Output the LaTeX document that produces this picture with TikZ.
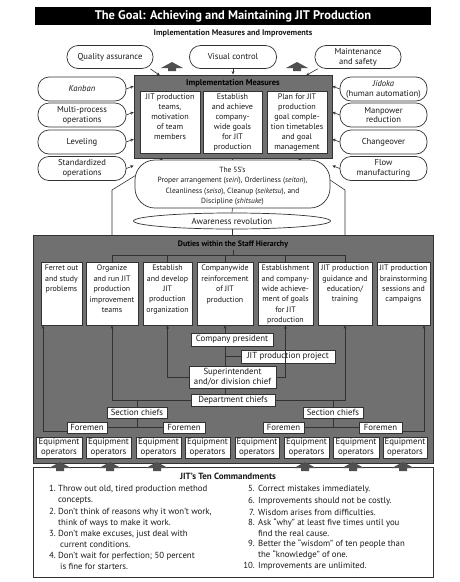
\documentclass[tikz,border=0pt]{standalone}
\usepackage{fontspec}
\setmainfont{PT Sans}
\usetikzlibrary{arrows.meta,shapes.geometric}
\definecolor{boxgray}{RGB}{112,112,112}
\definecolor{edgegray}{RGB}{50,50,50}
\definecolor{ink}{RGB}{25,25,25}
\definecolor{wedgegray}{RGB}{80,80,80}
\tikzset{
  heavyup/.pic={\fill[wedgegray] (-11,2) -- (0,-4) -- (11,2) -- (4,2) -- (4,5) -- (-4,5) -- (-4,2) -- cycle;}
}
\begin{document}
\begin{tikzpicture}[x=1pt,y=-1pt,
  every node/.style={text=ink},
  oval/.style={draw=edgegray, fill=white, line width=0.7pt, rounded corners=11pt, align=center, inner sep=0pt, font=\fontsize{8.6}{9.8}\selectfont},
  graybox/.style={draw=edgegray, fill=boxgray, line width=1pt, inner sep=0pt},
  wbox/.style={draw=edgegray, fill=white, line width=0.6pt, inner sep=0pt},
  btext/.style={align=center, inner sep=0pt, font=\fontsize{8.1}{10}\selectfont},
  dtext/.style={align=center, inner sep=0pt, font=\fontsize{7.9}{10.4}\selectfont},
  lbl/.style={draw=edgegray, fill=white, line width=0.5pt, align=center, inner sep=0pt, font=\fontsize{8.8}{10.4}\selectfont},
  conn/.style={draw=edgegray, line width=0.6pt},
  arr/.style={conn, -{Stealth[length=3.5pt,width=2.8pt]}},
  cmd/.style={inner sep=0pt, font=\fontsize{8.8}{10}\selectfont}
]
\useasboundingbox (0,0) rectangle (460,582);
\fill[white] (0,0) rectangle (460,582);

% title
\node[fill=black, minimum width=396pt, minimum height=18pt, inner sep=0pt, text=white, font=\bfseries\fontsize{12.5}{14}\selectfont] (title) at (233,16) {The Goal: Achieving and Maintaining JIT Production};
\node[font=\bfseries\fontsize{8.2}{10}\selectfont, inner sep=0pt] (sub) at (233,33) {Implementation Measures and Improvements};

% top ovals
\node[oval, minimum width=86pt, minimum height=23pt] (qa) at (110,57) {Quality assurance};
\node[oval, minimum width=87pt, minimum height=23pt] (vc) at (233,57) {Visual control};
\node[oval, minimum width=86pt, minimum height=23pt] (ms) at (358,57) {Maintenance\\and safety};
\pic at (172,66) {heavyup};
\pic at (297,66) {heavyup};

% side ovals
\node[oval, minimum width=88pt, minimum height=24pt] (kan) at (82,89) {\textit{Kanban}};
\node[oval, minimum width=88pt, minimum height=24pt] (multi) at (82,115) {Multi-process\\operations};
\node[oval, minimum width=88pt, minimum height=24pt] (lev) at (82,142) {Leveling};
\node[oval, minimum width=88pt, minimum height=24pt] (std) at (82,168.5) {Standardized\\operations};
\node[oval, minimum width=87pt, minimum height=24pt] (jid) at (383.5,89) {\textit{Jidoka}\\(human automation)};
\node[oval, minimum width=87pt, minimum height=24pt] (man) at (383.5,115) {Manpower\\reduction};
\node[oval, minimum width=87pt, minimum height=24pt] (chg) at (383.5,142) {Changeover};
\node[oval, minimum width=87pt, minimum height=24pt] (flow) at (383.5,168.5) {Flow\\manufacturing};

% implementation measures
\node[graybox, minimum width=198pt, minimum height=83pt] (imp) at (233,116.5) {};
\node[font=\bfseries\fontsize{8.4}{10}\selectfont, inner sep=0pt, text=black] (imptitle) at (233,83.5) {Implementation Measures};
\node[wbox, minimum width=60pt, minimum height=62pt] (im1) at (170,122) {};
\node[wbox, minimum width=59pt, minimum height=62pt] (im2) at (232.5,122) {};
\node[wbox, minimum width=60pt, minimum height=62pt] (im3) at (297,122) {};
\node[btext, anchor=north] (im1t) at (170,94) {JIT production\\teams,\\motivation\\of team\\members};
\node[btext, anchor=north] (im2t) at (232.5,94) {Establish\\and achieve\\company-\\wide goals\\for JIT\\production};
\node[btext, anchor=north] (im3t) at (297,94) {Plan for JIT\\production\\goal comple-\\tion timetables\\and goal\\management};

% arrows into implementation box
\coordinate (qaT) at (160,75.5);
\coordinate (msT) at (306,75.5);
\draw[arr] ([xshift=-3pt]qa.south east) -- (qaT);
\draw[arr] (vc.south) -- (vc.south |- imp.north);
\draw[arr] ([xshift=3pt]ms.south west) -- (msT);
\foreach \n in {kan,multi,lev,std}{\draw[arr] (\n.east) -- ++(7.5,-3);}
\foreach \n in {jid,man,chg,flow}{\draw[arr] (\n.west) -- ++(-7.5,-3);}

% 5S and awareness
\coordinate (impL) at (163,158.5);
\coordinate (impR) at (298,158.5);
\coordinate (kL) at (112,190);
\coordinate (kR) at (345,190);
\coordinate (busL) at (112,255);
\coordinate (busR) at (345,255);
\coordinate (busC) at (233,255);
\coordinate (busT) at (233,249.5);
\draw[arr] (busL) -- (kL) -- (impL);
\draw[arr] (busR) -- (kR) -- (impR);
\node[oval, rounded corners=20pt, minimum width=195pt, minimum height=48pt] (fives) at (232.5,184) {};
\node[align=center, inner sep=0pt, font=\fontsize{7.5}{10.4}\selectfont] (fivest) at (232.5,186) {The 5S's\\Proper arrangement (\textit{seiri}), Orderliness (\textit{seiton}),\\Cleanliness (\textit{seiso}), Cleanup (\textit{seiketsu}), and\\Discipline (\textit{shitsuke})};
\draw[conn] (imp.south) -- (fives.north);
\node[draw=edgegray, fill=white, line width=0.7pt, ellipse, minimum width=197pt, minimum height=16pt, inner sep=0pt, font=\fontsize{8.8}{10}\selectfont] (aware) at (232,221) {Awareness revolution};
\draw[conn] (fives.south) -- (aware.north);

% duties box
\node[graybox, minimum width=400pt, minimum height=228pt] (duties) at (233,349) {};
\draw[conn] (aware.south) -- (aware.south |- duties.north);
\node[font=\bfseries\fontsize{7.9}{10}\selectfont, inner sep=0pt, text=black] (dutitle) at (233,244) {Duties within the Staff Hierarchy};

\node[wbox, minimum width=41pt, minimum height=63pt] (d1) at (61.5,293.5) {};
\node[wbox, minimum width=52pt, minimum height=63pt] (d2) at (112,293.5) {};
\node[wbox, minimum width=49pt, minimum height=63pt] (d3) at (167.5,293.5) {};
\node[wbox, minimum width=56pt, minimum height=63pt] (d4) at (225,293.5) {};
\node[wbox, minimum width=55pt, minimum height=63pt] (d5) at (285.5,293.5) {};
\node[wbox, minimum width=54pt, minimum height=63pt] (d6) at (345,293.5) {};
\node[wbox, minimum width=53pt, minimum height=63pt] (d7) at (403.5,293.5) {};
\node[dtext, anchor=north] (d1t) at (61.5,265) {Ferret out\\and study\\problems};
\node[dtext, anchor=north] (d2t) at (112,265) {Organize\\and run JIT\\production\\improvement\\teams};
\node[dtext, anchor=north] (d3t) at (167.5,265) {Establish\\and develop\\JIT\\production\\organization};
\node[dtext, anchor=north] (d4t) at (225,265) {Companywide\\reinforcement\\of JIT\\production};
\node[dtext, anchor=north] (d5t) at (285.5,265) {Establishment\\and company-\\wide achieve-\\ment of goals\\for JIT\\production};
\node[dtext, anchor=north] (d6t) at (345,265) {JIT production\\guidance and\\education/\\training};
\node[dtext, anchor=north] (d7t) at (403.5,265) {JIT production\\brainstorming\\sessions and\\campaigns};

% bus above duty boxes
\draw[conn] (busT) -- (busC);
\draw[conn] (busL) -- (busR);
\draw[conn] (busL) -- (d2.north);
\draw[conn] (d3.north |- busC) -- (d3.north);
\draw[conn] (d4.north |- busC) -- (d4.north);
\draw[conn] (d5.north |- busC) -- (d5.north);
\draw[conn] (busR) -- (d6.north);

% hierarchy
\node[lbl, minimum width=82pt, minimum height=13pt] (pres) at (232,339.5) {Company president};
\node[lbl, minimum width=94pt, minimum height=13pt] (proj) at (288,356.5) {JIT production project};
\node[lbl, minimum width=87pt, minimum height=22pt] (sup) at (232.5,377) {Superintendent\\and/or division chief};
\node[lbl, minimum width=84pt, minimum height=12pt] (dept) at (233,400) {Department chiefs};
\node[lbl, minimum width=60pt, minimum height=11pt] (sec1) at (137,412.5) {Section chiefs};
\node[lbl, minimum width=60pt, minimum height=11pt] (sec2) at (333,412.5) {Section chiefs};
\node[lbl, minimum width=40pt, minimum height=11pt] (f1) at (87,427.5) {Foremen};
\node[lbl, minimum width=42pt, minimum height=11pt] (f2) at (184,427.5) {Foremen};
\node[lbl, minimum width=41pt, minimum height=11pt] (f3) at (283.5,427.5) {Foremen};
\node[lbl, minimum width=43pt, minimum height=11pt] (f4) at (380.5,427.5) {Foremen};
\foreach \i/\cx/\w in {1/59/46,2/108.5/45,3/158.5/45,4/207.5/45,5/257/44,6/306.5/45,7/356/46,8/405/44}{
  \node[lbl, minimum width=\w pt, minimum height=21pt] (e\i) at (\cx,447.5) {Equipment\\operators};
}

\draw[arr] (pres.north -| d4.south) -- (d4.south);
\draw[conn] (pres.south -| d4.south) -- (sup.north -| d4.south);
\draw[conn] (proj.west) -- (proj.west -| d4.south);
\draw[conn] (sup.south -| d4.south) -- (dept.north -| d4.south);
\draw[arr] (sup.west) -| (d3.south);
\draw[arr] (sup.east) -| (d5.south);
\draw[arr] (dept.west) -| (d2.south);
\draw[arr] (dept.east) -| (d6.south);
\draw[conn] (sec1.north) -- (sec1.north |- dept.west);
\draw[conn] (sec2.north) -- (sec2.north |- dept.east);
\draw[conn] (f1.east) -- (f2.west);
\draw[conn] (f3.east) -- (f4.west);
\draw[conn] (sec1.south) -- (sec1.south |- f1.east);
\draw[conn] (sec2.south) -- (sec2.south |- f3.east);
\coordinate (c1) at (43,431);
\coordinate (c7) at (424,431);
\draw[arr] ([yshift=-3.5pt]f1.west) -- (c1) -- (c1 |- d1.south);
\draw[arr] ([yshift=-3.5pt]f4.east) -- (c7) -- (c7 |- d7.south);

% commandments
\node[wbox, line width=0.8pt, minimum width=400pt, minimum height=110pt] (cmdbox) at (233,522) {};
\foreach \x in {60,110,157,305,353,403}{\pic at (\x,466) {heavyup};}
\node[font=\bfseries\fontsize{9}{10}\selectfont, inner sep=0pt] (cmdtitle) at (228,476) {JIT’s Ten Commandments};

\node[cmd, anchor=base east] (n1) at (56,491) {1.};
\node[cmd, anchor=base west] (l1) at (58,491) {Throw out old, tired production method};
\node[cmd, anchor=base west] (l1b) at (58,502) {concepts.};
\node[cmd, anchor=base east] (n2) at (56,514) {2.};
\node[cmd, anchor=base west] (l2) at (58,514) {Don’t think of reasons why it won’t work,};
\node[cmd, anchor=base west] (l2b) at (58,525) {think of ways to make it work.};
\node[cmd, anchor=base east] (n3) at (56,536) {3.};
\node[cmd, anchor=base west] (l3) at (58,536) {Don’t make excuses, just deal with};
\node[cmd, anchor=base west] (l3b) at (60,547) {current conditions.};
\node[cmd, anchor=base east] (n4) at (56,558) {4.};
\node[cmd, anchor=base west] (l4) at (58,558) {Don’t wait for perfection; 50 percent};
\node[cmd, anchor=base west] (l4b) at (60,569) {is fine for starters.};

\node[cmd, anchor=base east] (n5) at (255,491) {5.};
\node[cmd, anchor=base west] (l5) at (258,491) {Correct mistakes immediately.};
\node[cmd, anchor=base east] (n6) at (255,503) {6.};
\node[cmd, anchor=base west] (l6) at (258,503) {Improvements should not be costly.};
\node[cmd, anchor=base east] (n7) at (255,515) {7.};
\node[cmd, anchor=base west] (l7) at (258,515) {Wisdom arises from difficulties.};
\node[cmd, anchor=base east] (n8) at (255,525) {8.};
\node[cmd, anchor=base west] (l8) at (258,525) {Ask “why” at least five times until you};
\node[cmd, anchor=base west] (l8b) at (258,536) {find the real cause.};
\node[cmd, anchor=base east] (n9) at (255,546) {9.};
\node[cmd, anchor=base west] (l9) at (258,546) {Better the “wisdom” of ten people than};
\node[cmd, anchor=base west] (l9b) at (258,557) {the “knowledge” of one.};
\node[cmd, anchor=base east] (n10) at (255,568) {10.};
\node[cmd, anchor=base west] (l10) at (258,568) {Improvements are unlimited.};
\end{tikzpicture}
\end{document}
